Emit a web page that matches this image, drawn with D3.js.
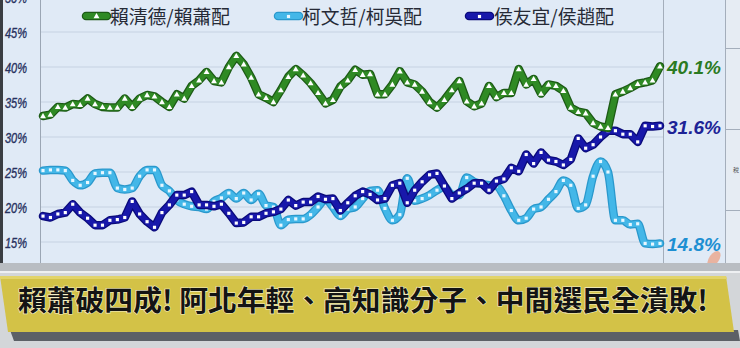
<!DOCTYPE html>
<html><head><meta charset="utf-8">
<script src="https://cdn.jsdelivr.net/npm/d3@7"></script>
<style>html,body{margin:0;padding:0;background:#d2d5d8;}svg{display:block;}</style>
</head><body>
<svg id="c" width="740" height="348"></svg>
<script>
const seriesNames = ["賴清德/賴蕭配", "柯文哲/柯吳配", "侯友宜/侯趙配"];
const laiValues = [33.0,33.2,34.3,34.2,34.7,34.6,35.5,34.7,34.3,34.2,34.2,35.5,34.3,35.5,36.0,35.8,35.0,34.3,36.1,35.5,37.3,38.1,39.3,38.0,37.8,40.0,41.6,40.4,38.5,36.1,35.6,35.0,36.7,38.6,39.7,38.8,37.7,36.3,34.8,35.3,37.2,38.1,39.6,38.9,39.0,36.1,36.1,37.5,39.4,37.8,37.5,36.5,35.0,34.2,35.3,36.7,38.0,35.1,34.4,34.8,37.3,35.7,36.3,36.3,39.7,37.5,38.3,36.2,37.5,37.3,36.6,34.2,33.6,33.4,32.0,31.5,31.3,36.1,36.5,37.0,37.6,37.8,38.1,40.1];
const koValues = [25.2,25.3,25.3,25.2,23.8,23.1,23.5,24.8,24.9,24.9,22.7,22.5,22.7,24.4,25.3,25.3,23.1,22.3,21.0,20.4,20.1,20.0,19.7,20.8,21.3,22.0,21.2,22.0,21.0,21.9,20.2,20.0,17.4,18.2,18.3,18.3,18.9,20.0,21.1,20.0,18.7,19.7,20.0,21.2,22.3,22.4,19.8,18.1,18.9,24.1,20.9,21.2,21.7,22.4,22.9,21.7,21.7,24.2,23.6,23.3,23.1,23.0,21.6,19.5,18.1,18.4,19.7,20.0,21.1,22.2,23.8,23.1,19.8,20.3,24.4,26.5,25.0,18.1,18.1,17.5,17.6,14.8,14.7,14.8];
const houValues = [18.7,18.5,19.0,19.2,20.4,19.2,18.4,17.4,17.4,18.1,18.2,18.5,20.8,19.0,17.9,17.1,19.2,20.3,21.7,21.7,22.2,20.3,20.3,20.1,20.4,19.1,17.7,17.8,18.6,18.6,19.1,19.3,19.7,21.0,20.2,20.7,20.7,21.5,21.1,21.2,19.5,20.6,21.6,22.2,21.8,21.0,21.2,23.1,23.4,20.6,22.4,23.6,24.6,24.8,23.0,21.2,22.0,22.6,23.4,23.4,22.4,23.7,24.0,25.6,25.1,27.5,26.2,27.8,26.7,26.5,26.0,26.8,29.8,28.4,28.9,30.0,30.9,30.9,30.4,30.4,29.3,31.6,31.5,31.6];
const yTicks = [15, 20, 25, 30, 35, 40, 45, 50];
const yTickLabels = ["15%", "20%", "25%", "30%", "35%", "40%", "45%", "50%"];
const endLabels = ["40.1%", "31.6%", "14.8%"];
const headline = "賴蕭破四成! 阿北年輕、高知識分子、中間選民全潰敗!";

const svg = d3.select("#c");
const CJK = "'Noto Sans CJK TC','Noto Sans CJK SC',sans-serif";

// panel background
svg.append("rect").attr("x",0).attr("y",0).attr("width",740).attr("height",263).attr("fill","#e0eaf6");
svg.append("rect").attr("x",725).attr("y",0).attr("width",15).attr("height",263).attr("fill","#e6ecf3");
svg.append("rect").attr("x",0).attr("y",0).attr("width",3).attr("height",263).attr("fill","#3a3d42");

const n = laiValues.length;
const x = d3.scaleLinear().domain([0, n-1]).range([43, 660]);
const y = d3.scaleLinear().domain([15, 45]).range([242, 32]);

// gridlines
svg.append("g").selectAll("line").data(yTicks).join("line")
  .attr("x1",40).attr("x2",663).attr("y1",d=>y(d)).attr("y2",d=>y(d))
  .attr("stroke","#c6d2e2").attr("stroke-width",1);
// axes lines
svg.append("line").attr("x1",40.5).attr("x2",40.5).attr("y1",0).attr("y2",263).attr("stroke","#9ba6b4");
svg.append("line").attr("x1",663.5).attr("x2",663.5).attr("y1",0).attr("y2",263).attr("stroke","#a4aebb");
svg.append("line").attr("x1",725.5).attr("x2",725.5).attr("y1",0).attr("y2",263).attr("stroke","#a4aebb");
svg.append("line").attr("x1",725).attr("x2",740).attr("y1",48.5).attr("y2",48.5).attr("stroke","#a4aebb");
svg.append("line").attr("x1",725).attr("x2",740).attr("y1",129.5).attr("y2",129.5).attr("stroke","#a4aebb");
svg.append("line").attr("x1",725).attr("x2",740).attr("y1",210.5).attr("y2",210.5).attr("stroke","#a4aebb");
svg.append("text").attr("x",733).attr("y",172).attr("font-size",6).attr("fill","#555").attr("font-family",CJK).text("稅");

// y tick labels
const yAxis = d3.axisLeft(y).tickValues(yTicks).tickFormat((d,i)=>yTickLabels[i]).tickSize(0);
const gy = svg.append("g").attr("transform","translate(27,0)").call(yAxis);
gy.select(".domain").remove();
gy.selectAll("text")
  .attr("x",0).attr("dy","0.36em")
  .attr("font-family","'Liberation Sans',Arial,sans-serif").attr("font-style","italic")
  .attr("font-size",14).attr("fill","#27315e")
  .attr("stroke","#27315e").attr("stroke-width",0.35)
  .attr("textLength",22).attr("lengthAdjust","spacingAndGlyphs");

const series = [
  {name: seriesNames[1], values: koValues, main:"#43b7e8", edge:"#2a98cc", marker:"square", mfill:"#e8f7ff", curve:d3.curveMonotoneX, label:endLabels[2], lcolor:"#1d8fd2"},
  {name: seriesNames[2], values: houValues, main:"#1818aa", edge:"#0a0a7a", marker:"square", mfill:"#ffffff", curve:d3.curveLinear, label:endLabels[1], lcolor:"#1d2396"},
  {name: seriesNames[0], values: laiValues, main:"#2f8a24", edge:"#1c5a15", marker:"triangle", mfill:"#ffffff", curve:d3.curveLinear, label:endLabels[0], lcolor:"#2a7a22"}
];

series.forEach(s => {
  const line = d3.line().x((d,i)=>x(i)).y(d=>y(d)).curve(s.curve);
  const g = svg.append("g");
  g.append("path").attr("d", line(s.values)).attr("fill","none").attr("stroke",s.edge)
    .attr("stroke-width",8.5).attr("stroke-linejoin","round").attr("stroke-linecap","round");
  g.append("path").attr("d", line(s.values)).attr("fill","none").attr("stroke",s.main)
    .attr("stroke-width",6).attr("stroke-linejoin","round").attr("stroke-linecap","round");
  const sym = d3.symbol().type(s.marker==="triangle"?d3.symbolTriangle:d3.symbolSquare).size(s.marker==="triangle"?15:10);
  g.selectAll("path.m").data(s.values).join("path").attr("class","m")
    .attr("d", sym).attr("transform",(d,i)=>`translate(${x(i)},${y(d)+(s.marker==="triangle"?0.5:0)})`)
    .attr("fill", s.mfill);
  const last = s.values[s.values.length-1];
  svg.append("text").attr("x",667).attr("y",y(last)+8)
    .attr("font-family","'Liberation Sans',Arial,sans-serif").attr("font-style","italic").attr("font-weight","bold")
    .attr("font-size",18).attr("fill",s.lcolor)
    .attr("textLength",54).attr("lengthAdjust","spacingAndGlyphs").text(s.label);
});

// legend
const legend = [
  {s: series[2], x0: 86, tx: 110},
  {s: series[0], x0: 278, tx: 302},
  {s: series[1], x0: 469, tx: 494}
];
legend.forEach(l => {
  const g = svg.append("g");
  g.append("line").attr("x1",l.x0).attr("x2",l.x0+21).attr("y1",16).attr("y2",16)
    .attr("stroke",l.s.edge).attr("stroke-width",8.5).attr("stroke-linecap","round");
  g.append("line").attr("x1",l.x0).attr("x2",l.x0+21).attr("y1",16).attr("y2",16)
    .attr("stroke",l.s.main).attr("stroke-width",6).attr("stroke-linecap","round");
  const sym = d3.symbol().type(l.s.marker==="triangle"?d3.symbolTriangle:d3.symbolSquare).size(l.s.marker==="triangle"?15:10);
  g.append("path").attr("d",sym).attr("transform",`translate(${l.x0+10.5},16.5)`).attr("fill",l.s.mfill);
  g.append("text").attr("x",l.tx).attr("y",23.5).attr("font-family",CJK).attr("font-size",19)
    .attr("fill","#262a36").attr("textLength",120).attr("lengthAdjust","spacingAndGlyphs").text(l.s.name);
});

// finger
svg.append("ellipse").attr("cx",714).attr("cy",259).attr("rx",9).attr("ry",5)
  .attr("transform","rotate(-55,714,259)").attr("fill","#e9b3a0");

// bottom banner area
svg.append("rect").attr("x",0).attr("y",263).attr("width",740).attr("height",85).attr("fill","#d3d6d9");
svg.append("rect").attr("x",0).attr("y",263).attr("width",740).attr("height",8).attr("fill","#b9bdc2");
svg.append("rect").attr("x",0).attr("y",271).attr("width",740).attr("height",2).attr("fill","#eef0f2");
svg.append("polygon").attr("points","10,330 738,330 740,341 14,341").attr("fill","#5c6066");
svg.append("polygon").attr("points","0,276 726,276 734,332 8,332").attr("fill","#d3c247");
svg.append("polygon").attr("points","0,276 726,276 727,279 0,279").attr("fill","#e2d46a");
svg.append("text").attr("x",18).attr("y",311).attr("font-family",CJK).attr("font-weight","bold")
  .attr("font-size",28).attr("fill","#141414")
  .attr("stroke","#f4efc6").attr("stroke-width",1.2).attr("paint-order","stroke")
  .attr("textLength",690).attr("lengthAdjust","spacingAndGlyphs").text(headline);
</script>
</body></html>
